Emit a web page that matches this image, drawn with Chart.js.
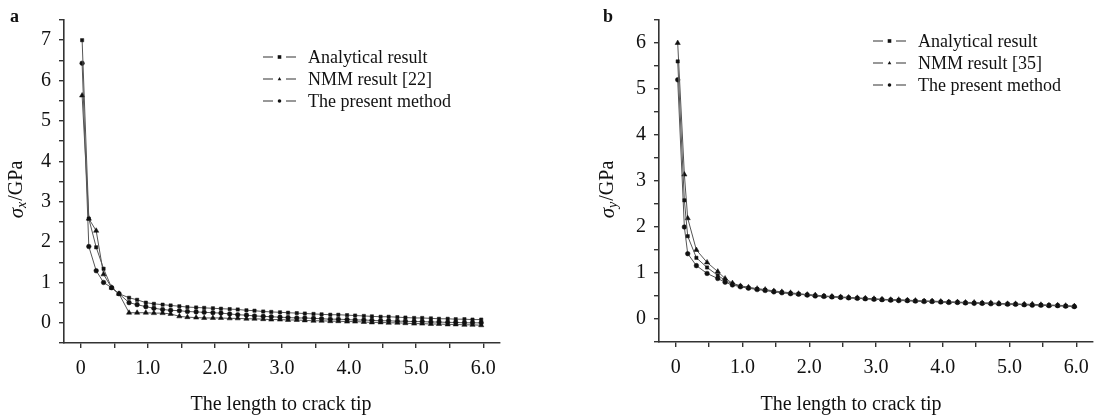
<!DOCTYPE html>
<html>
<head>
<meta charset="utf-8">
<script src="https://cdn.jsdelivr.net/npm/chart.js@4.4.0/dist/chart.umd.min.js"></script>
<style>
  html, body { margin: 0; padding: 0; background: #fff; }
  #wrap { position: relative; width: 1098px; height: 415px; }
  .box { position: absolute; top: 0; width: 549px; height: 415px; }
</style>
</head>
<body>
<div id="wrap">
  <div class="box" style="left:0"><canvas id="chartA" width="549" height="415"></canvas></div>
  <div class="box" style="left:549px"><canvas id="chartB" width="549" height="415"></canvas></div>
</div>
<script>
// ---------------- data
const seriesNames = ["Analytical result", "NMM result [22]", "The present method"];
const seriesNamesB = ["Analytical result", "NMM result [35]", "The present method"];
const xTitle = "The length to crack tip";

const xTicks = [0, 0.5, 1, 1.5, 2, 2.5, 3, 3.5, 4, 4.5, 5, 5.5, 6];
const yTicksA = [-0.5, 0, 0.5, 1, 1.5, 2, 2.5, 3, 3.5, 4, 4.5, 5, 5.5, 6, 6.5, 7, 7.5];
const yTicksB = [-0.5, 0, 0.5, 1, 1.5, 2, 2.5, 3, 3.5, 4, 4.5, 5, 5.5, 6, 6.5];

// chart a: sigma x
const xsA = [0.02, 0.12, 0.23, 0.34, 0.46, 0.57, 0.72,
  0.84, 0.97, 1.09, 1.22, 1.34, 1.47, 1.59,
  1.72, 1.84, 1.97, 2.09, 2.22, 2.34, 2.47,
  2.59, 2.72, 2.84, 2.97, 3.09, 3.22, 3.34,
  3.47, 3.59, 3.72, 3.84, 3.97, 4.09, 4.22,
  4.34, 4.47, 4.59, 4.72, 4.84, 4.97, 5.09,
  5.22, 5.34, 5.47, 5.59, 5.72, 5.84, 5.97];
const analyticalA = [7.0, 2.58, 1.87, 1.34, 0.87, 0.72, 0.62,
  0.57, 0.5, 0.47, 0.45, 0.43, 0.41, 0.39,
  0.38, 0.37, 0.36, 0.35, 0.34, 0.33, 0.31,
  0.3, 0.28, 0.27, 0.26, 0.25, 0.24, 0.23,
  0.22, 0.21, 0.2, 0.2, 0.19, 0.18, 0.17,
  0.16, 0.15, 0.15, 0.14, 0.13, 0.12, 0.12,
  0.11, 0.1, 0.1, 0.09, 0.09, 0.08, 0.08];
const nmmA = [5.63, 2.58, 2.28, 1.2, 0.87, 0.72, 0.25,
  0.25, 0.25, 0.24, 0.24, 0.22, 0.16, 0.14,
  0.13, 0.12, 0.12, 0.12, 0.11, 0.11, 0.1,
  0.1, 0.09, 0.08, 0.08, 0.07, 0.07, 0.06,
  0.05, 0.05, 0.04, 0.04, 0.03, 0.03, 0.02,
  0.01, 0.01, 0.0, 0.0, -0.01, -0.02, -0.02,
  -0.03, -0.03, -0.04, -0.04, -0.05, -0.05, -0.06];
const presentA = [6.43, 1.89, 1.29, 1.0, 0.87, 0.72, 0.5,
  0.45, 0.4, 0.36, 0.33, 0.31, 0.3, 0.28,
  0.27, 0.26, 0.25, 0.24, 0.22, 0.2, 0.19,
  0.17, 0.16, 0.15, 0.14, 0.13, 0.12, 0.12,
  0.11, 0.1, 0.09, 0.09, 0.08, 0.07, 0.07,
  0.06, 0.05, 0.05, 0.04, 0.04, 0.03, 0.03,
  0.02, 0.02, 0.01, 0.01, 0.0, 0.0, 0.0];

// chart b: sigma y
const xsB = [0.03, 0.13, 0.18, 0.31, 0.47, 0.63, 0.74,
  0.85, 0.97, 1.09, 1.22, 1.34, 1.47, 1.59,
  1.72, 1.84, 1.97, 2.09, 2.22, 2.34, 2.47,
  2.59, 2.72, 2.84, 2.97, 3.09, 3.22, 3.34,
  3.47, 3.59, 3.72, 3.84, 3.97, 4.09, 4.22,
  4.34, 4.47, 4.59, 4.72, 4.84, 4.97, 5.09,
  5.22, 5.34, 5.47, 5.59, 5.72, 5.84, 5.97];
const analyticalB = [5.6, 2.58, 1.8, 1.33, 1.12, 0.95, 0.84,
  0.76, 0.71, 0.68, 0.65, 0.63, 0.6, 0.58,
  0.56, 0.54, 0.53, 0.51, 0.5, 0.48, 0.47,
  0.46, 0.45, 0.44, 0.43, 0.42, 0.42, 0.41,
  0.4, 0.39, 0.39, 0.38, 0.37, 0.37, 0.36,
  0.35, 0.35, 0.34, 0.34, 0.33, 0.33, 0.32,
  0.31, 0.31, 0.3, 0.3, 0.29, 0.28, 0.27];
const nmmB = [6.0, 3.14, 2.19, 1.5, 1.23, 1.03, 0.88,
  0.78, 0.72, 0.69, 0.66, 0.64, 0.61, 0.59,
  0.57, 0.55, 0.53, 0.52, 0.5, 0.49, 0.48,
  0.47, 0.46, 0.45, 0.44, 0.43, 0.42, 0.42,
  0.41, 0.4, 0.39, 0.39, 0.38, 0.37, 0.37,
  0.36, 0.36, 0.35, 0.35, 0.34, 0.33, 0.33,
  0.32, 0.32, 0.31, 0.3, 0.3, 0.29, 0.28];
const presentB = [5.2, 2.0, 1.42, 1.16, 0.99, 0.88, 0.8,
  0.74, 0.7, 0.67, 0.64, 0.62, 0.59, 0.57,
  0.55, 0.54, 0.52, 0.5, 0.49, 0.48, 0.47,
  0.46, 0.45, 0.44, 0.43, 0.42, 0.41, 0.4,
  0.4, 0.39, 0.38, 0.38, 0.37, 0.36, 0.36,
  0.35, 0.34, 0.34, 0.33, 0.33, 0.32, 0.32,
  0.31, 0.3, 0.3, 0.29, 0.29, 0.28, 0.27];

// ---------------- styling
const serif = "'Liberation Serif', 'Times New Roman', serif";
const lineColor = "#555";
const axisColor = "#333";
const inkColor = "#111";
const markerStyles = ["rect", "triangle", "circle"];
const markerSizes = [2.3, 3, 2.3];

function pts(xs, ys) {
  return xs.map((x, i) => ({ x: x, y: ys[i] }));
}

function makeset(label, xs, ys, idx) {
  return {
    label: label,
    data: pts(xs, ys),
    borderColor: lineColor,
    borderWidth: 1,
    pointStyle: markerStyles[idx],
    pointRadius: markerSizes[idx],
    pointBackgroundColor: inkColor,
    pointBorderColor: inkColor,
    pointBorderWidth: 0.5,
    tension: 0,
    fill: false
  };
}

function drawMarker(ctx, style, x, y, r) {
  ctx.beginPath();
  if (style === "rect") {
    ctx.rect(x - r, y - r, r * 2, r * 2);
  } else if (style === "triangle") {
    ctx.moveTo(x, y - r * 1.1);
    ctx.lineTo(x + r, y + r * 0.7);
    ctx.lineTo(x - r, y + r * 0.7);
    ctx.closePath();
  } else {
    ctx.arc(x, y, r, 0, Math.PI * 2);
  }
  ctx.fill();
}

// legend, titles and panel letter
const deco = {
  id: "deco",
  afterDraw(chart, args, o) {
    const ctx = chart.ctx;
    ctx.save();
    ctx.fillStyle = inkColor;
    ctx.textBaseline = "middle";

    ctx.font = "bold 18px " + serif;
    ctx.textAlign = "left";
    ctx.fillText(o.panel, o.panelX, o.panelY);

    ctx.font = "20px " + serif;
    ctx.textAlign = "center";
    ctx.fillText(xTitle, o.xTitleX, o.xTitleY);

    // y title: sigma with subscript, rotated
    ctx.save();
    ctx.translate(o.yTitleX, o.yTitleY);
    ctx.rotate(-Math.PI / 2);
    ctx.textAlign = "left";
    const f1 = "italic 21px " + serif, f2 = "italic 14px " + serif, f3 = "20px " + serif;
    ctx.font = f1; const w1 = ctx.measureText("σ").width;
    ctx.font = f2; const w2 = ctx.measureText(o.sub).width;
    ctx.font = f3; const w3 = ctx.measureText("/GPa").width;
    let x0 = -(w1 + w2 + w3) / 2;
    ctx.font = f1; ctx.fillText("σ", x0, 0);
    ctx.font = f2; ctx.fillText(o.sub, x0 + w1, 5);
    ctx.font = f3; ctx.fillText("/GPa", x0 + w1 + w2 + 1, 0);
    ctx.restore();

    // legend
    ctx.font = "18px " + serif;
    ctx.textAlign = "left";
    chart.data.datasets.forEach((ds, i) => {
      const y = o.legendY + i * 22;
      const s = o.legendX;
      ctx.strokeStyle = "#333";
      ctx.lineWidth = 1.2;
      ctx.beginPath();
      ctx.moveTo(s, y); ctx.lineTo(s + 10, y);
      ctx.moveTo(s + 23, y); ctx.lineTo(s + 33, y);
      ctx.stroke();
      ctx.fillStyle = inkColor;
      drawMarker(ctx, markerStyles[i], s + 16.5, y, 1.8);
      ctx.fillText(ds.label, s + 45, y + 1);
    });
    ctx.restore();
  }
};

function axis(min, max, ticks, fitKey, fitVal, isX) {
  return {
    type: "linear",
    min: min,
    max: max,
    afterBuildTicks: (s) => { s.ticks = ticks.map((v) => ({ value: v })); },
    afterFit: (s) => { s[fitKey] = fitVal; },
    border: { display: true, color: axisColor, width: 1.6 },
    grid: { drawOnChartArea: false, drawTicks: true, tickLength: 5, color: axisColor, lineWidth: 1.4 },
    ticks: {
      autoSkip: false,
      maxRotation: 0,
      padding: isX ? 9 : 8,
      color: inkColor,
      font: { family: serif, size: 20 },
      callback: (v) => {
        if (!Number.isInteger(v)) return "";
        if (isX) return v === 0 ? "0" : v.toFixed(1);
        return String(v);
      }
    }
  };
}

function makechart(id, names, xs, sets, yMin, yMax, yTicks, lay, deco_opts) {
  const ctx = document.getElementById(id);
  return new Chart(ctx, {
    type: "line",
    data: {
      datasets: [
        makeset(names[0], xs, sets[0], 0),
        makeset(names[1], xs, sets[1], 1),
        makeset(names[2], xs, sets[2], 2)
      ]
    },
    options: {
      responsive: false,
      animation: false,
      layout: { padding: lay.padding },
      scales: {
        x: axis(-0.25, 6.25, xTicks, "height", lay.xh, true),
        y: axis(yMin, yMax, yTicks, "width", lay.yw, false)
      },
      plugins: {
        legend: { display: false },
        tooltip: { enabled: false },
        deco: deco_opts
      }
    },
    plugins: [deco]
  });
}

makechart("chartA", seriesNames, xsA, [analyticalA, nmmA, presentA], -0.5, 7.5, yTicksA,
  { padding: { top: 20, right: 49, left: 0, bottom: 0 }, xh: 72, yw: 64 },
  { panel: "a", panelX: 10, panelY: 17, sub: "x", xTitleX: 281, xTitleY: 405,
    yTitleX: 17, yTitleY: 190, legendX: 263, legendY: 57 });

makechart("chartB", seriesNamesB, xsB, [analyticalB, nmmB, presentB], -0.5, 6.5, yTicksB,
  { padding: { top: 17, right: 4, left: 0, bottom: 0 }, xh: 73, yw: 110 },
  { panel: "b", panelX: 54, panelY: 17, sub: "y", xTitleX: 302, xTitleY: 405,
    yTitleX: 59, yTitleY: 190, legendX: 324, legendY: 41 });
</script>
</body>
</html>
